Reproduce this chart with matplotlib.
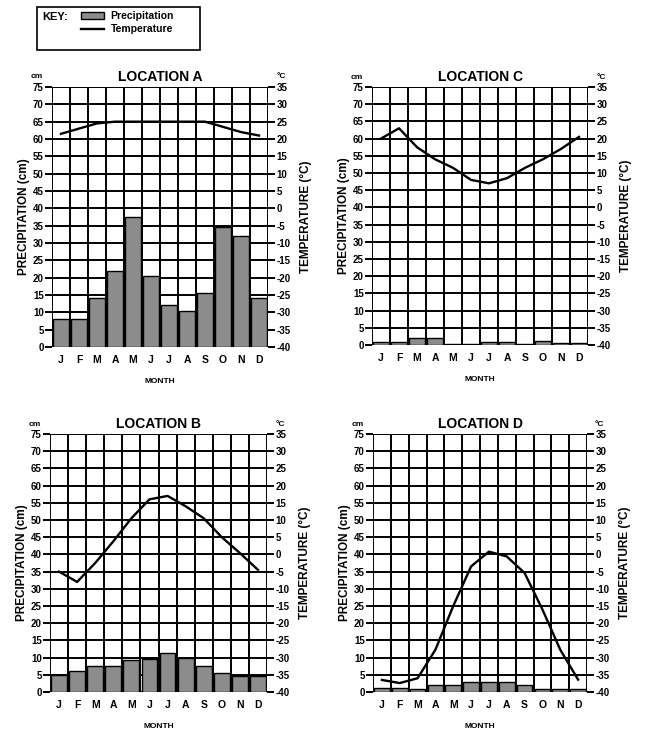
import numpy as np
import matplotlib.pyplot as plt
from matplotlib.patches import Patch, Rectangle
from matplotlib.lines import Line2D

plt.rcParams['font.family'] = ['Liberation Sans', 'DejaVu Sans']
plt.rcParams['font.weight'] = 'bold'
plt.rcParams['axes.unicode_minus'] = False

months = ['J', 'F', 'M', 'A', 'M', 'J', 'J', 'A', 'S', 'O', 'N', 'D']

# precipitation in cm, temperature in deg C (month by month)
precip_a = [8, 8, 14, 22, 37.5, 20.5, 12, 10.5, 15.5, 34.5, 32, 14]
temp_a = [21.5, 23, 24.5, 25, 25, 25, 25, 25, 25, 23.5, 22, 21]

precip_b = [5, 6, 7.6, 7.6, 9.4, 9.7, 11.3, 9.9, 7.5, 5.5, 4.7, 4.7]
temp_b = [-5, -8, -2.5, 3.8, 10.5, 16, 17, 14, 10.5, 5, 0.4, -4.5]

precip_c = [1, 1, 2, 2, 0.3, 0.3, 0.8, 0.8, 0.3, 1.3, 0.5, 0.5]
temp_c = [20, 23, 17.5, 14, 11.5, 8, 7, 8.5, 11.5, 14, 17, 20.5]

precip_d = [1.3, 1.3, 1, 2, 2, 2.8, 2.8, 2.8, 2, 1, 1, 1]
temp_d = [-36.5, -37.4, -36, -27.7, -15, -3.5, 0.8, -0.6, -5.4, -16, -27.7, -36.4]

panels = [
    ('LOCATION A', precip_a, temp_a, [52, 87, 268, 347]),
    ('LOCATION C', precip_c, temp_c, [372, 87, 588, 345]),
    ('LOCATION B', precip_b, temp_b, [50, 434, 267, 692]),
    ('LOCATION D', precip_d, temp_d, [373, 434, 587, 692]),
]

W, H = 645, 732
fig = plt.figure(figsize=(W / 100, H / 100), dpi=100)

for title, pr, tp, (x0, y0, x1, y1) in panels:
    ax = fig.add_axes([x0 / W, 1 - y1 / H, (x1 - x0) / W, (y1 - y0) / H])
    x = np.arange(12) + 0.5
    ax.bar(x, pr, width=0.88, color='#8c8c8c', edgecolor='black', linewidth=1.0, zorder=3)
    ax.set_xlim(0, 12)
    ax.set_ylim(0, 75)
    for v in range(13):
        ax.axvline(v, color='black', lw=1.4, zorder=2)
    for h in range(0, 80, 5):
        ax.axhline(h, color='black', lw=1.4, zorder=2)
    for s in ax.spines.values():
        s.set_visible(False)
    ax.set_yticks(range(0, 80, 5))
    ax.tick_params(axis='y', length=5, width=1.4, labelsize=7, pad=1)
    ax.set_xticks(x)
    ax.set_xticklabels(months)
    ax.tick_params(axis='x', length=0, labelsize=7.5, pad=6)
    ax.set_ylabel('PRECIPITATION (cm)', fontsize=8.5, fontweight='bold', labelpad=2)
    ax.set_xlabel('MONTH', fontsize=6, fontweight='bold', labelpad=9)
    ax.set_title(title, fontsize=10, fontweight='bold', pad=4)
    ax.text(-0.07, 1.025, 'cm', transform=ax.transAxes, fontsize=6, ha='center', va='bottom')

    ax2 = ax.twinx()
    ax2.set_ylim(-40, 35)
    ax2.set_yticks(range(-40, 40, 5))
    ax2.plot(x, tp, color='black', lw=1.7, zorder=4)
    for s in ax2.spines.values():
        s.set_visible(False)
    ax2.tick_params(axis='y', length=5, width=1.4, labelsize=7, pad=1)
    ax2.set_ylabel('TEMPERATURE (°C)', fontsize=8.5, fontweight='bold', labelpad=7)
    ax2.text(1.06, 1.025, '°C', transform=ax2.transAxes, fontsize=6, ha='center', va='bottom')

# key box
fig.patches.append(Rectangle((37 / W, 1 - 50 / H), 163 / W, 43 / H, transform=fig.transFigure,
                             fill=False, edgecolor='black', lw=1.2))
fig.text(42 / W, 1 - 17 / H, 'KEY:', fontsize=8, va='center')
handles = [Patch(facecolor='#8c8c8c', edgecolor='black', label='Precipitation'),
           Line2D([0], [0], color='black', lw=1.7, label='Temperature')]
fig.legend(handles=handles, loc='upper left', bbox_to_anchor=(74 / W, 1 - 4 / H), frameon=False,
           fontsize=7.5, handlelength=2.2, handletextpad=0.6, labelspacing=0.3, borderpad=0.2)

fig.savefig('out.png', dpi=100)
